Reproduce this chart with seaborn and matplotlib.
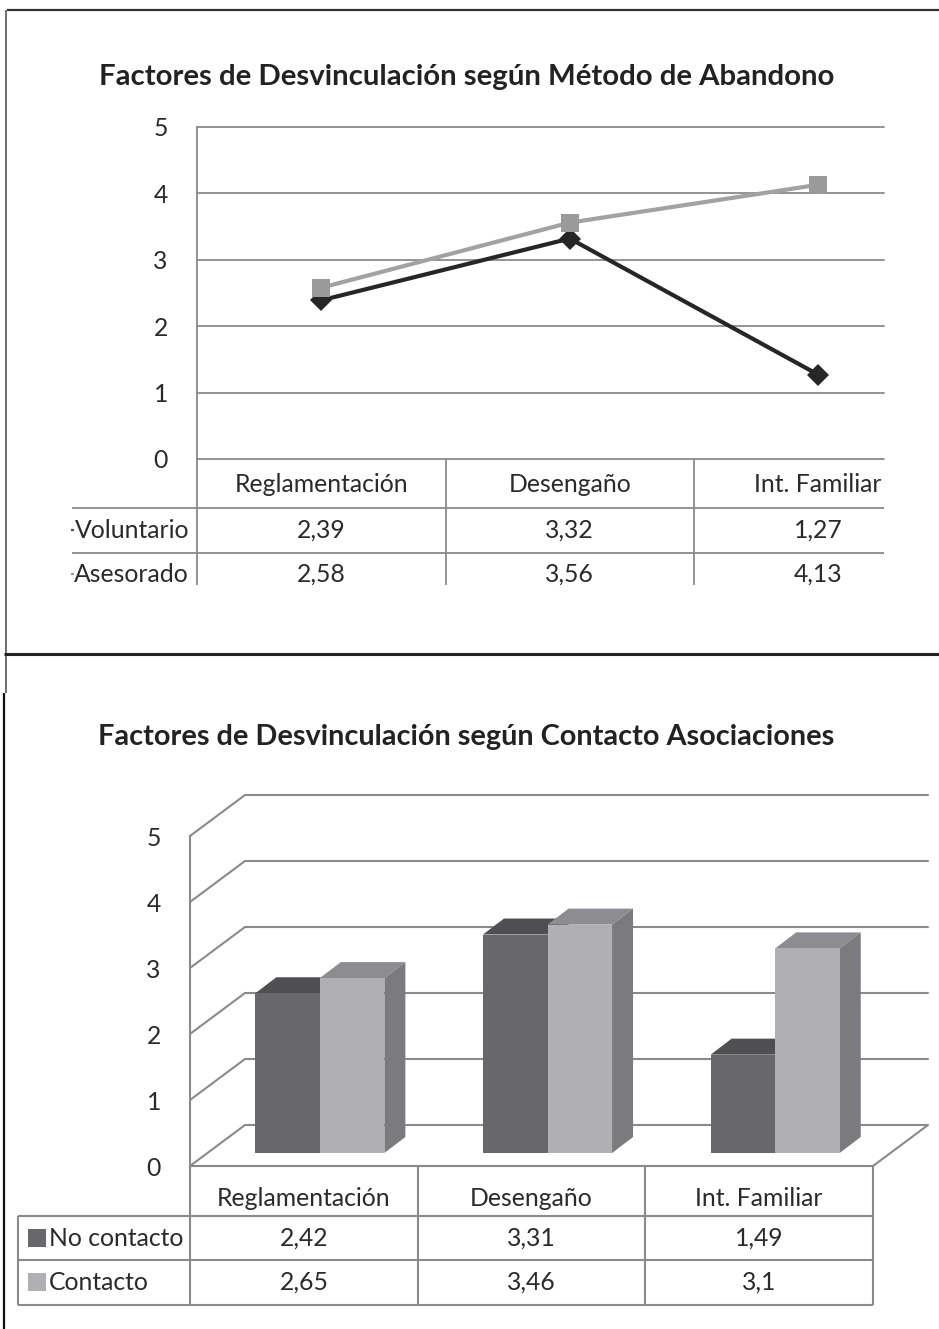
import matplotlib
matplotlib.use("Agg")
import matplotlib.pyplot as plt
import numpy as np
import pandas as pd
import seaborn as sns
from matplotlib.lines import Line2D
from matplotlib.patches import Polygon, Rectangle
from matplotlib.transforms import Bbox, TransformedBbox

# ---------------------------------------------------------------- data
factores = ["Reglamentación", "Desengaño", "Int. Familiar"]

metodo_grupos = ["Voluntario", "Asesorado"]
voluntario = [2.39, 3.32, 1.27]
asesorado = [2.58, 3.56, 4.13]

contacto_grupos = ["No contacto", "Contacto"]
no_contacto = [2.42, 3.31, 1.49]
contacto = [2.65, 3.46, 3.1]

valores_eje = [0, 1, 2, 3, 4, 5]

titulo_metodo = "Factores de Desvinculación según Método de Abandono"
titulo_contacto = "Factores de Desvinculación según Contacto Asociaciones"

# ---------------------------------------------------------------- style
sns.set_theme(style="white")
plt.rcParams["font.family"] = ["Lato", "DejaVu Sans"]

W, H = 939, 1329
fig = plt.figure(figsize=(W / 100, H / 100), dpi=100)
fig.patch.set_facecolor("white")

GRID = "#8a8a8a"
TXT = "#2a2a2a"
FS = 17.8


def rect(x0, y0, x1, y1):
    """Axes rectangle from pixel box (origin top-left)."""
    return [x0 / W, 1 - y1 / H, (x1 - x0) / W, (y1 - y0) / H]


def fmt(v):
    return f"{v:g}".replace(".", ",")


# overlay in pixel coordinates for frames and table grids
ov = fig.add_axes([0, 0, 1, 1], zorder=5)
ov.set_xlim(0, W)
ov.set_ylim(H, 0)
ov.axis("off")


def px_x(ax, x):
    """Pixel column of data x on an axes."""
    disp = ax.transData.transform((x, 0))
    return ov.transData.inverted().transform(disp)[0]


def seg(x0, y0, x1, y1, color=GRID, lw=1.5, **kw):
    ov.add_line(Line2D([x0, x1], [y0, y1], color=color, lw=lw,
                       solid_capstyle="butt", **kw))


# page frame
seg(7, 10, 939, 10, color="#333333", lw=1.6)
seg(6, 10, 6, 693, color="#555555", lw=1.2)
seg(4, 693, 4, H, color="#111111", lw=1.6)
seg(4, 654, 939, 654, color="#222222", lw=2.2)

# ================================================================ panel 1
ov.text(467, 77, titulo_metodo, ha="center", va="center", fontsize=21.2,
        fontweight="bold", color="#222222")

ax1 = fig.add_axes(rect(197, 127, 884, 459), zorder=1)
df1 = pd.DataFrame({
    "factor": factores * 2,
    "grupo": [g for g in metodo_grupos for _ in factores],
    "valor": voluntario + asesorado,
})
sns.pointplot(data=df1, x="factor", y="valor", hue="grupo", order=factores,
              hue_order=metodo_grupos,
              palette={"Voluntario": "#262626", "Asesorado": "#a2a2a2"},
              markers=["D", "s"], linestyles=["-", "-"], errorbar=None,
              ax=ax1, legend=False)
for line, ms, mc in zip(ax1.lines, [11, 13.5], ["#262626", "#9a9a9a"]):
    line.set_linewidth(3.0)
    line.set_markersize(ms)
    line.set_markerfacecolor(mc)
    line.set_markeredgecolor(mc)
    line.set_markeredgewidth(0)
    line.set_zorder(3)

col_w = 248.5
ax1.set_xlim(-0.5, -0.5 + (884 - 197) / col_w)
ax1.set_ylim(0, 5)
ax1.set_xticks([])
ax1.set_yticks(valores_eje)
ax1.set_xlabel("")
ax1.set_ylabel("")
ax1.tick_params(axis="y", left=False, labelsize=FS, pad=15, labelcolor=TXT)
for s in ["top", "right", "bottom"]:
    ax1.spines[s].set_visible(False)
ax1.spines["left"].set_color(GRID)
ax1.spines["left"].set_linewidth(1.3)
for v in valores_eje:
    ax1.axhline(v, color=GRID, lw=1.3, clip_on=False, zorder=1)

# data table under the line chart
cx1 = [px_x(ax1, i) for i in range(len(factores))]
bx1 = [px_x(ax1, i - 0.5) for i in range(len(factores))]
for b in bx1:
    seg(b, 459, b, 585, lw=1.3)
seg(72, 508, 884, 508, lw=1.3)
seg(72, 553, 884, 553, lw=1.3)

clip_tabla = TransformedBbox(Bbox.from_extents(0, 0, W, 585), ov.transData)
for c, f in zip(cx1, factores):
    ov.text(c, 485, f, ha="center", va="center", fontsize=FS, color=TXT)
for fila_y, grupo, vals, col in zip([530, 574], metodo_grupos,
                                    [voluntario, asesorado],
                                    ["#555555", "#9a9a9a"]):
    t = ov.text(189, fila_y, grupo, ha="right", va="center", fontsize=FS,
                color=TXT)
    t.set_clip_box(clip_tabla)
    t.set_clip_on(True)
    seg(71, fila_y, 74, fila_y, color=col, lw=1.6)
    for c, v in zip(cx1, vals):
        t = ov.text(c, fila_y, fmt(v), ha="center", va="center",
                    fontsize=FS, color=TXT)
        t.set_clip_box(clip_tabla)
        t.set_clip_on(True)

# ================================================================ panel 2
ov.text(466, 737, titulo_contacto, ha="center", va="center", fontsize=20.8,
        fontweight="bold", color="#222222")

# back wall
ax_back = fig.add_axes(rect(245, 795, 928, 1125), zorder=0)
ax_back.set_xlim(0, 1)
ax_back.set_ylim(0, 5)
ax_back.axis("off")
for v in valores_eje:
    ax_back.axhline(v, color=GRID, lw=1.5, clip_on=False)

# front plane (value axis)
ax_front = fig.add_axes(rect(190, 836, 873, 1166), zorder=0)
ax_front.set_xlim(-0.5, 2.5)
ax_front.set_ylim(0, 5)
ax_front.patch.set_visible(False)
ax_front.set_xticks([])
ax_front.set_yticks(valores_eje)
ax_front.tick_params(axis="y", left=False, labelsize=FS, pad=15,
                     labelcolor=TXT)
for s in ["top", "right", "bottom"]:
    ax_front.spines[s].set_visible(False)
ax_front.spines["left"].set_color(GRID)
ax_front.spines["left"].set_linewidth(1.5)

inv = ov.transData.inverted()
for v in valores_eje:
    p0 = inv.transform(ax_front.transData.transform((-0.5, v)))
    p1 = inv.transform(ax_back.transData.transform((0, v)))
    seg(p0[0], p0[1], p1[0], p1[1], lw=1.5, zorder=0)
p0 = inv.transform(ax_front.transData.transform((2.5, 0)))
p1 = inv.transform(ax_back.transData.transform((1, 0)))
seg(p0[0], p0[1], p1[0], p1[1], lw=1.5)

# bars
ax_bars = fig.add_axes(rect(206, 823, 889, 1153), zorder=1)
df2 = pd.DataFrame({
    "factor": factores * 2,
    "grupo": [g for g in contacto_grupos for _ in factores],
    "valor": no_contacto + contacto,
})
frente = {"No contacto": "#68686c", "Contacto": "#b0b0b4"}
techo = {"No contacto": "#4f4f53", "Contacto": "#8d8d91"}
lado = {"No contacto": "#58585c", "Contacto": "#7b7b7f"}
sns.barplot(data=df2, x="factor", y="valor", hue="grupo", order=factores,
            hue_order=contacto_grupos, palette=frente, width=0.567,
            saturation=1, errorbar=None, ax=ax_bars, legend=False,
            linewidth=0, edgecolor="none")
ax_bars.set_xlim(-0.5, 2.5)
ax_bars.set_ylim(0, 5)
ax_bars.axis("off")

DX, DY = 21, 16  # bar depth in pixels
to_data = ax_bars.transData.inverted()
for cont, grupo in zip(ax_bars.containers, contacto_grupos):
    for p in cont:
        p.set_zorder(3)
        x0, y0 = ax_bars.transData.transform((p.get_x(), p.get_y()))
        x1, y1 = ax_bars.transData.transform((p.get_x() + p.get_width(),
                                              p.get_y() + p.get_height()))
        top = [(x0, y1), (x1, y1), (x1 + DX, y1 + DY), (x0 + DX, y1 + DY)]
        side = [(x1, y0), (x1 + DX, y0 + DY), (x1 + DX, y1 + DY), (x1, y1)]
        ax_bars.add_patch(Polygon(to_data.transform(top), closed=True,
                                  facecolor=techo[grupo], edgecolor="none",
                                  zorder=2, clip_on=False))
        ax_bars.add_patch(Polygon(to_data.transform(side), closed=True,
                                  facecolor=lado[grupo], edgecolor="none",
                                  zorder=2, clip_on=False))

# data table under the bar chart
cx2 = [px_x(ax_front, i) for i in range(len(factores))]
bx2 = [px_x(ax_front, i - 0.5) for i in range(len(factores) + 1)]
TL = "#8a8a8a"
for b in bx2:
    seg(b, 1166, b, 1305, color=TL, lw=1.5)
seg(bx2[0], 1166, bx2[-1], 1166, color=TL, lw=1.5)
for yy in [1216, 1260, 1305]:
    seg(18, yy, bx2[-1], yy, color=TL, lw=1.5)
seg(18, 1216, 18, 1305, color=TL, lw=1.5)

for c, f in zip(cx2, factores):
    ov.text(c, 1199, f, ha="center", va="center", fontsize=FS, color=TXT)
for fila_y, grupo, vals in zip([1238, 1282], contacto_grupos,
                               [no_contacto, contacto]):
    ov.add_patch(Rectangle((28, fila_y - 9), 18, 18, facecolor=frente[grupo],
                           edgecolor="none"))
    ov.text(49, fila_y, grupo, ha="left", va="center", fontsize=FS, color=TXT)
    for c, v in zip(cx2, vals):
        ov.text(c, fila_y, fmt(v), ha="center", va="center", fontsize=FS,
                color=TXT)

fig.savefig("out.png", dpi=100, facecolor="white")
